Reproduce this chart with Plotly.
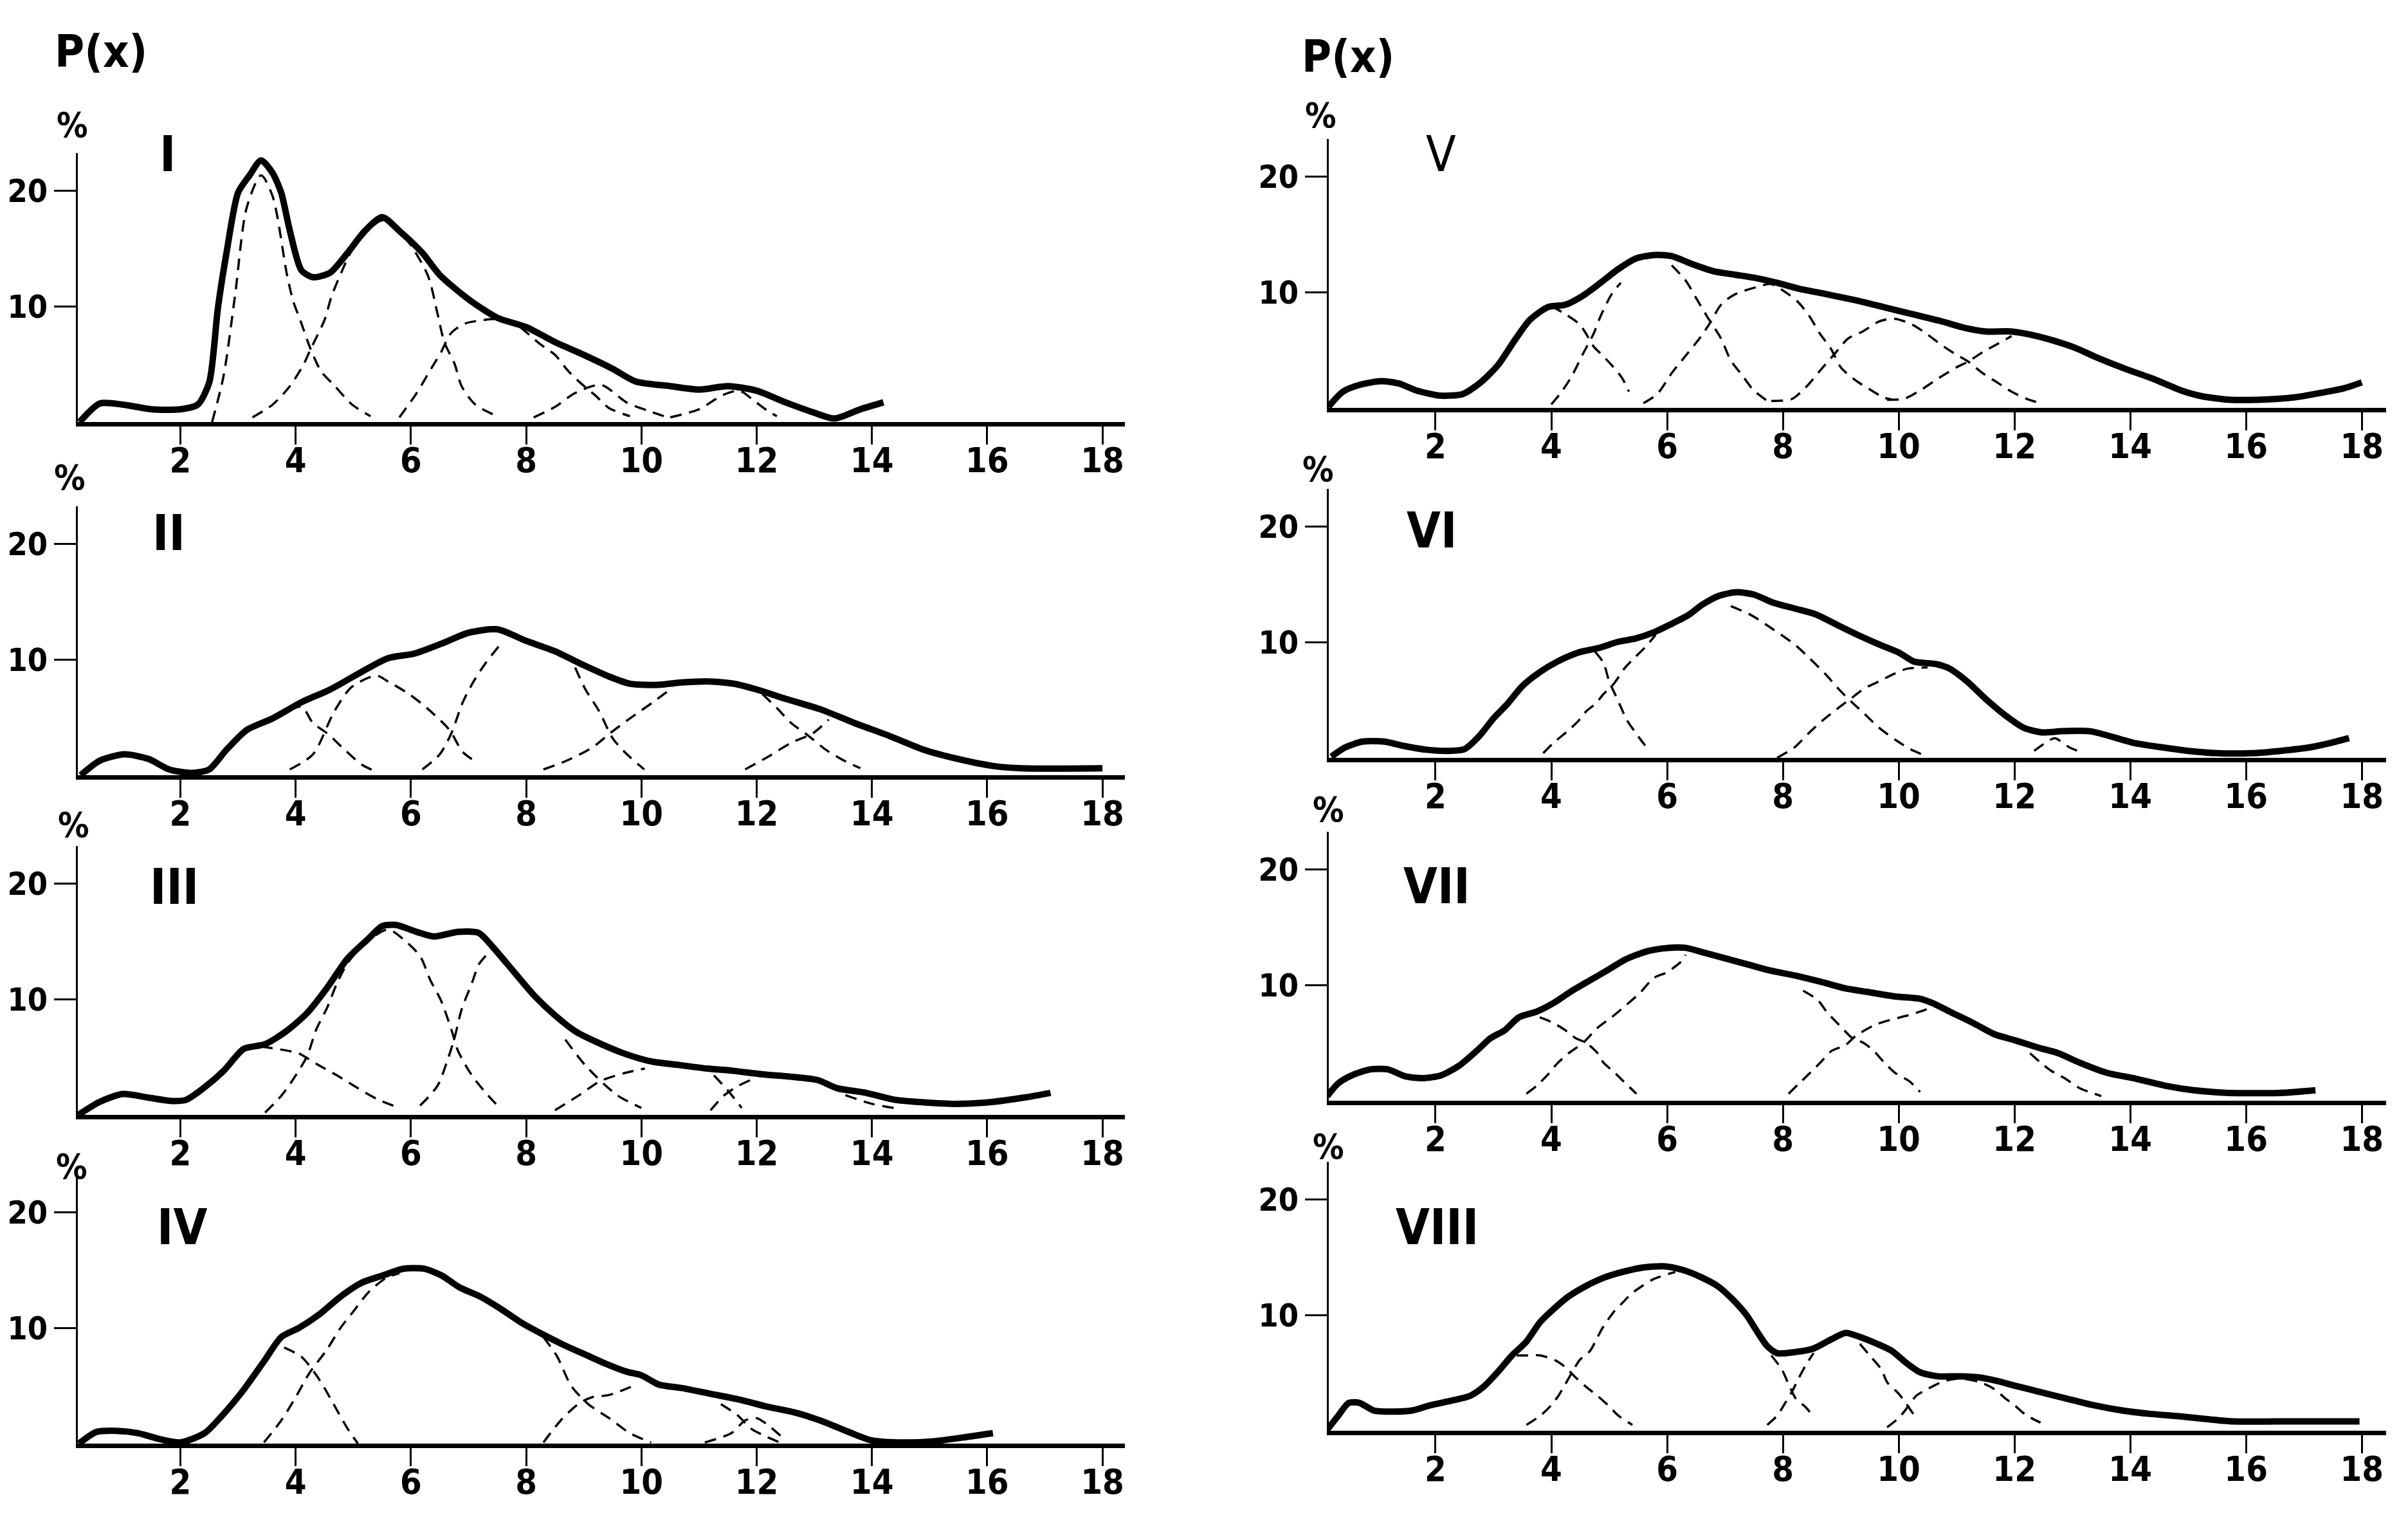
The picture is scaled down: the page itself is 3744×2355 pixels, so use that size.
import plotly.graph_objects as go

W, H = 3744, 2355

# ---------------- Panel I ----------------
p1_x = [0.25,0.6,1.0,1.5,2.0,2.3,2.5,2.65,2.8,3.0,3.2,3.4,3.6,3.75,3.9,4.1,4.3,4.6,4.9,5.2,5.5,5.8,6.2,6.5,7.0,7.5,8.0,8.5,9.0,9.5,9.9,10.5,11.0,11.5,12.0,12.5,13.0,13.35,13.8,14.2]
p1_y = [0,1.6,1.5,1.1,1.1,1.5,3.4,9.8,14.6,19.8,21.3,22.6,21.5,19.8,16.5,13.1,12.5,12.9,14.6,16.5,17.7,16.5,14.6,12.7,10.6,9.0,8.2,6.9,5.8,4.6,3.5,3.1,2.8,3.1,2.7,1.7,0.8,0.3,1.1,1.7]
p1_c1_x = [2.55,2.75,2.95,3.15,3.4,3.6,3.85,3.96,4.08,4.26,4.44,4.68,4.98,5.3]
p1_c1_y = [0,4,11,18.5,21.3,19.5,12.7,10.4,8.8,6.3,4.4,3.1,1.5,0.5]
p1_c2_x = [3.25,3.6,3.9,4.14,4.26,4.5,4.62,4.8,5.0,5.5,5.9,6.29,6.46,6.58,6.76,6.88,7.12,7.54]
p1_c2_y = [0.4,1.5,3.1,5.0,6.3,8.8,10.8,13.0,15.0,17.4,15.9,12.7,9.4,6.9,5.0,3.1,1.5,0.4]
p1_c3_x = [5.8,6.1,6.35,6.52,6.7,6.94,7.18,7.5,7.8,8.25,8.5,8.73,8.96,9.2,9.44,9.8]
p1_c3_y = [0.4,2.5,4.6,6.0,7.7,8.5,8.75,8.9,8.5,6.7,5.8,4.4,3.3,2.3,1.2,0.5]
p1_c4_x = [8.13,8.5,8.85,9.3,9.74,10.1,10.45]
p1_c4_y = [0.4,1.3,2.5,3.2,1.7,1.0,0.4]
p1_c5_x = [10.5,11.0,11.4,11.7,11.94,12.18,12.35]
p1_c5_y = [0.4,1.1,2.3,2.7,1.9,1.0,0.5]

# ---------------- Panel II ----------------
p2_x = [0.27,0.6,1.03,1.45,1.8,2.2,2.5,2.8,3.15,3.6,4.1,4.6,5.1,5.6,6.06,6.55,7.0,7.5,8.0,8.5,9.0,9.45,9.8,10.3,10.67,11.15,11.6,12.0,12.5,13.1,13.7,14.3,14.9,15.5,16.1,16.6,18.0]
p2_y = [0,1.25,1.8,1.4,0.5,0.2,0.5,2.2,3.9,4.9,6.3,7.4,8.8,10.1,10.5,11.4,12.3,12.6,11.6,10.7,9.5,8.5,7.9,7.8,8.0,8.1,7.9,7.4,6.6,5.7,4.5,3.4,2.2,1.4,0.8,0.6,0.6]
p2_c1_x = [3.6,4.1,4.3,4.55,4.85,5.15,5.4]
p2_c1_y = [4.8,5.9,4.5,3.6,2.2,0.9,0.3]
p2_c2_x = [3.9,4.3,4.67,4.97,5.4,5.6,5.97,6.3,6.67,6.9,7.15]
p2_c2_y = [0.5,1.8,5.5,7.6,8.6,8.1,7.0,5.7,3.9,2.0,1.1]
p2_c3_x = [6.2,6.5,6.7,6.9,7.1,7.3,7.6,None,8.85,9.03,9.27,9.5,9.75,10.05]
p2_c3_y = [0.5,1.8,3.6,6.3,8.2,9.7,11.6,None,9.3,7.4,5.5,3.2,1.8,0.5]
p2_c4_x = [8.3,8.7,9.15,9.45,9.8,10.2,10.55,None,12.1,12.35,12.6,12.9,13.2,13.5,13.8]
p2_c4_y = [0.5,1.25,2.4,3.6,4.9,6.3,7.6,None,7.0,5.8,4.5,3.4,2.2,1.3,0.6]
p2_c5_x = [11.8,12.2,12.6,12.97,13.25]
p2_c5_y = [0.5,1.6,2.8,3.6,4.8]

# ---------------- Panel III ----------------
p3_x = [0.23,0.59,1.0,1.43,1.85,2.1,2.4,2.75,3.1,3.47,3.83,4.2,4.55,4.9,5.26,5.5,5.74,6.1,6.4,6.82,7.18,7.42,7.78,8.14,8.5,8.86,9.22,9.7,10.18,10.66,11.14,11.6,12.1,12.58,13.06,13.4,13.9,14.4,14.86,15.45,16.05,16.65,17.1]
p3_y = [0,1.1,1.8,1.5,1.2,1.3,2.3,3.8,5.7,6.1,7.2,8.8,11,13.5,15.2,16.3,16.4,15.8,15.4,15.8,15.7,14.5,12.4,10.3,8.6,7.2,6.3,5.3,4.6,4.3,4.0,3.8,3.5,3.3,3.0,2.3,1.9,1.3,1.1,0.95,1.1,1.5,1.9]
p3_c1_x = [3.4,3.9,4.06,4.36,4.72,5.08,5.44,5.8]
p3_c1_y = [5.9,5.5,5.3,4.4,3.4,2.3,1.3,0.6]
p3_c2_x = [3.47,3.76,4.0,4.2,4.36,4.55,4.72,4.9,5.2,5.6,5.86,6.16,6.34,6.52,6.7,6.82,7.06,7.3,7.54]
p3_c2_y = [0.2,1.7,3.4,5.1,7.4,9.3,11.4,13.1,14.8,16.0,15.2,13.7,11.6,9.9,7.4,5.5,3.4,1.9,0.6]
p3_c3_x = [6.16,6.46,6.64,6.76,6.88,7.06,7.18,7.35,None,8.68,9.04,9.58,10.0]
p3_c3_y = [0.8,2.5,4.8,6.7,9.1,11.4,13.0,14.0,None,6.5,4.2,1.7,0.6]
p3_c4_x = [8.5,8.92,9.28,9.7,10.06,None,11.26,11.5,11.74]
p3_c4_y = [0.4,1.7,2.9,3.6,4.0,None,3.4,2.1,0.6]
p3_c5_x = [11.2,11.44,11.68,11.98,None,13.54,14.0,14.5]
p3_c5_y = [0.4,1.7,2.5,3.2,None,1.7,0.95,0.5]

# ---------------- Panel IV ----------------
p4_x = [0.24,0.54,0.9,1.27,1.63,2.0,2.42,2.72,3.09,3.45,3.75,4.06,4.42,4.78,5.15,5.5,5.87,6.23,6.54,6.84,7.2,7.57,7.93,8.3,8.66,9.02,9.38,9.75,10.0,10.3,10.7,11.2,11.7,12.17,12.65,13.1,13.6,13.98,14.47,15.07,15.68,16.1]
p4_y = [0,1.0,1.1,0.9,0.4,0.1,0.9,2.4,4.6,7.1,9.2,10.0,11.2,12.7,13.9,14.5,15.1,15.1,14.5,13.5,12.7,11.6,10.4,9.4,8.5,7.7,6.9,6.2,5.9,5.1,4.8,4.3,3.8,3.2,2.7,2.0,1.0,0.3,0.1,0.2,0.6,0.9]
p4_c1_x = [3.8,4.1,4.36,4.5,4.66,4.9,5.08]
p4_c1_y = [8.3,7.5,5.9,4.8,3.4,1.3,0]
p4_c2_x = [3.45,3.75,4.0,4.24,4.54,4.78,5.0,5.27,5.57,5.8,None,8.3,8.54,8.78,9.08,9.44,9.8,10.17]
p4_c2_y = [0.1,2.0,4.0,6.1,8.1,10.0,11.4,13.1,14.3,14.7,None,9.2,7.5,5.0,3.4,2.2,0.9,0.1]
p4_c3_x = [8.3,8.6,8.9,9.14,9.44,9.87,None,11.38,11.68,11.9,12.17,12.4]
p4_c3_y = [0.1,2.0,3.4,4.0,4.2,5.0,None,3.4,2.4,1.3,0.6,0.1]
p4_c4_x = [11.1,11.56,11.8,12.0,12.17,12.5]
p4_c4_y = [0.1,0.9,2.0,2.2,1.7,0.3]

# ---------------- Panel V ----------------
p5_x = [0.15,0.4,0.7,1.06,1.37,1.67,2.1,2.47,2.78,3.08,3.39,3.63,3.94,4.24,4.55,4.85,5.16,5.46,5.77,6.08,6.44,6.8,7.17,7.54,7.9,8.27,8.77,9.25,9.74,10.23,10.72,11.15,11.5,11.94,12.3,12.68,13.04,13.4,13.9,14.4,14.88,15.24,15.73,16.2,16.83,17.3,17.7,18.0]
p5_y = [0.1,1.4,2.0,2.3,2.1,1.5,1.05,1.2,2.2,3.7,6.0,7.6,8.7,8.9,9.7,10.8,12.0,12.9,13.2,13.1,12.4,11.8,11.5,11.2,10.8,10.3,9.8,9.3,8.7,8.1,7.5,6.9,6.6,6.6,6.3,5.8,5.2,4.4,3.4,2.5,1.5,1.0,0.7,0.7,0.9,1.3,1.7,2.2]
p5_c1_x = [4.0,4.24,4.49,4.6,4.73,4.85,5.04,5.22,5.34]
p5_c1_y = [8.8,8.1,7.2,6.4,5.3,4.7,3.7,2.6,1.4]
p5_c2_x = [4.0,4.18,4.36,4.55,4.73,4.85,5.04,5.2,None,6.08,6.32,6.5,6.69,6.93,7.1,7.3,7.48,7.73]
p5_c2_y = [0.3,1.4,2.8,4.7,6.4,7.9,9.8,10.8,None,12.3,11.0,9.5,7.9,6.0,4.1,2.8,1.6,0.6]
p5_c3_x = [5.59,5.83,6.08,6.32,6.56,6.75,6.93,7.17,7.6,7.79,8.1,8.27,8.46,8.64,8.83,9.0,9.25,9.5,9.74,9.9]
p5_c3_y = [0.4,1.2,3.0,4.5,6.0,7.4,8.9,9.8,10.5,10.7,9.8,9.1,7.9,6.4,5.1,3.5,2.4,1.6,0.9,0.7]
p5_c4_x = [7.8,8.15,8.4,8.64,8.9,9.13,9.38,9.68,9.93,10.23,10.48,10.72,10.96,11.2,11.45,11.7,11.95,12.2,12.45]
p5_c4_y = [0.6,0.75,1.8,3.2,4.7,6.0,6.6,7.5,7.7,7.2,6.4,5.5,4.7,4.0,3.0,2.2,1.4,0.8,0.4]
p5_c5_x = [9.8,10.1,10.4,10.7,11.0,11.2,11.45,11.7,11.95]
p5_c5_y = [0.7,0.8,1.6,2.6,3.5,4.0,4.8,5.5,6.2]

# ---------------- Panel VI ----------------
p6_x = [0.2,0.44,0.74,1.11,1.48,1.84,2.2,2.5,2.76,3.0,3.25,3.5,3.8,4.1,4.47,4.83,5.14,5.45,5.75,6.05,6.36,6.6,6.9,7.2,7.5,7.83,8.2,8.56,8.93,9.3,9.66,10.0,10.27,10.64,10.88,11.18,11.5,11.86,12.16,12.47,12.83,13.3,13.7,14.05,14.55,15.0,15.5,16.1,16.6,17.1,17.47,17.78]
p6_y = [0.1,0.9,1.4,1.4,1.0,0.7,0.6,0.75,1.9,3.4,4.7,6.2,7.4,8.3,9.1,9.5,10.0,10.3,10.8,11.5,12.3,13.2,14.0,14.3,14.1,13.4,12.9,12.4,11.5,10.6,9.8,9.1,8.3,8.1,7.7,6.6,5.1,3.6,2.6,2.2,2.3,2.3,1.8,1.3,0.9,0.6,0.4,0.4,0.6,0.9,1.3,1.7]
p6_c1_x = [4.75,4.9,5.0,5.1,5.2,5.3,5.45,5.6,5.7]
p6_c1_y = [9.2,8.2,6.6,5.5,4.4,3.3,2.2,1.2,0.6]
p6_c2_x = [3.86,4.04,4.28,4.47,4.6,4.77,4.9,5.08,5.26,5.45,5.63,5.8,None,7.1,7.46,7.83,8.2,8.44,8.74,8.99,9.17,9.41,9.66,9.96,10.2,10.45]
p6_c2_y = [0.4,1.3,2.3,3.2,4.0,4.7,5.5,6.4,7.7,8.7,9.6,10.6,None,13.1,12.3,11.1,9.8,8.7,7.2,5.8,4.9,3.8,2.6,1.5,0.75,0.2]
p6_c3_x = [7.9,8.2,8.44,8.68,8.93,9.17,9.41,9.66,9.9,10.15,10.5]
p6_c3_y = [0,0.9,2.1,3.2,4.2,5.1,6.0,6.6,7.2,7.7,7.8]
p6_c4_x = [12.34,12.6,12.7,12.95,13.2]
p6_c4_y = [0.6,1.5,1.7,0.9,0.4]

# ---------------- Panel VII ----------------
p7_x = [0.13,0.32,0.56,0.87,1.18,1.48,1.79,2.1,2.4,2.71,2.95,3.2,3.44,3.75,4.06,4.36,4.67,4.98,5.28,5.65,6.02,6.32,6.63,7.0,7.37,7.73,8.22,8.71,9.08,9.45,9.94,10.37,10.6,10.92,11.29,11.65,12.02,12.4,12.76,13.12,13.6,14.1,14.6,15.1,15.6,16.2,16.7,17.2]
p7_y = [0.4,1.5,2.2,2.7,2.7,2.1,1.95,2.2,3.0,4.3,5.4,6.1,7.2,7.7,8.5,9.5,10.4,11.3,12.2,12.9,13.2,13.2,12.8,12.3,11.8,11.3,10.8,10.2,9.7,9.4,9.0,8.8,8.4,7.6,6.7,5.75,5.2,4.6,4.1,3.3,2.4,1.9,1.3,0.9,0.7,0.65,0.7,0.9]
p7_c1_x = [3.8,4.0,4.24,4.42,4.6,4.8,4.9,5.1,5.2,5.47]
p7_c1_y = [7.2,6.8,6.1,5.4,5.0,4.1,3.3,2.4,1.9,0.6]
p7_c2_x = [3.57,3.75,3.93,4.1,4.3,4.55,4.8,5.04,5.28,5.53,5.77,6.0,6.26,6.32,None,8.35,8.6,8.77,9.02,9.2,9.39,9.57,9.75,9.94,10.18,10.37]
p7_c2_y = [0.6,1.3,2.2,3.2,4.1,5.0,6.3,7.2,8.2,9.3,10.6,11.1,12.1,12.6,None,9.5,8.7,7.6,6.3,5.4,5.0,4.3,3.3,2.4,1.7,0.75]
p7_c3_x = [8.1,8.28,8.47,8.65,8.84,9.08,9.26,9.57,9.8,10.18,10.43,10.6,None,12.27,12.45,12.63,12.88,13.12,13.5]
p7_c3_y = [0.6,1.5,2.4,3.3,4.3,4.8,5.6,6.5,6.9,7.4,7.8,8.1,None,4.1,3.3,2.6,1.9,1.1,0.4]

# ---------------- Panel VIII ----------------
p8_x = [0.13,0.32,0.5,0.69,0.93,1.3,1.6,1.91,2.28,2.59,2.83,3.08,3.32,3.57,3.81,4.06,4.3,4.6,4.9,5.22,5.59,5.96,6.26,6.57,6.87,7.12,7.37,7.55,7.73,7.9,8.22,8.53,8.84,9.08,9.33,9.63,9.88,10.12,10.37,10.67,11.04,11.4,11.7,12.0,12.4,12.88,13.37,13.86,14.35,14.84,15.33,15.8,16.55,17.3,17.96]
p8_y = [0.1,1.3,2.4,2.4,1.75,1.65,1.75,2.2,2.6,3.0,3.8,5.1,6.5,7.7,9.4,10.6,11.6,12.5,13.2,13.7,14.1,14.2,13.9,13.3,12.5,11.4,10.0,8.6,7.3,6.7,6.8,7.1,7.9,8.45,8.1,7.5,6.9,5.9,5.05,4.7,4.7,4.6,4.3,3.9,3.4,2.8,2.2,1.75,1.45,1.25,1.0,0.8,0.8,0.8,0.8]
p8_c1_x = [3.4,3.57,3.81,4.06,4.24,4.42,4.6,4.8,4.98,5.16,5.4]
p8_c1_y = [6.5,6.5,6.5,6.1,5.5,4.6,3.8,3.0,2.2,1.3,0.5]
p8_c2_x = [3.57,3.81,4.0,4.12,4.24,4.36,4.49,4.67,4.8,4.9,5.1,5.22,5.4,5.77,6.14,None,7.8,7.98,8.1,8.22,8.4,8.53]
p8_c2_y = [0.5,1.3,2.2,3.0,4.0,5.05,6.1,6.9,8.1,9.0,10.4,11.0,11.9,13.1,13.7,None,6.5,5.3,4.0,2.8,2.0,1.2]
p8_c3_x = [7.73,7.9,8.04,8.16,8.28,8.4,8.53,None,9.33,9.5,9.7,9.8,10.0,10.12,10.3]
p8_c3_y = [0.5,1.3,2.4,3.4,4.6,5.7,6.7,None,7.5,6.5,5.3,4.2,3.2,2.4,1.1]
p8_c4_x = [9.8,10.0,10.18,10.3,10.5,10.74,11.04,11.4,11.65,11.84,12.0,12.2,12.45]
p8_c4_y = [0.3,1.1,2.2,3.0,3.6,4.2,4.5,4.2,3.6,2.8,2.2,1.35,0.7]

# ---------------- labels ----------------
roman = ["I", "II", "III", "IV", "V", "VI", "VII", "VIII"]
x_ticks = [2, 4, 6, 8, 10, 12, 14, 16, 18]
y_ticks = [10, 20]

panels = [
    (p1_x, p1_y, [(p1_c1_x, p1_c1_y), (p1_c2_x, p1_c2_y), (p1_c3_x, p1_c3_y), (p1_c4_x, p1_c4_y), (p1_c5_x, p1_c5_y)]),
    (p2_x, p2_y, [(p2_c1_x, p2_c1_y), (p2_c2_x, p2_c2_y), (p2_c3_x, p2_c3_y), (p2_c4_x, p2_c4_y), (p2_c5_x, p2_c5_y)]),
    (p3_x, p3_y, [(p3_c1_x, p3_c1_y), (p3_c2_x, p3_c2_y), (p3_c3_x, p3_c3_y), (p3_c4_x, p3_c4_y), (p3_c5_x, p3_c5_y)]),
    (p4_x, p4_y, [(p4_c1_x, p4_c1_y), (p4_c2_x, p4_c2_y), (p4_c3_x, p4_c3_y), (p4_c4_x, p4_c4_y)]),
    (p5_x, p5_y, [(p5_c1_x, p5_c1_y), (p5_c2_x, p5_c2_y), (p5_c3_x, p5_c3_y), (p5_c4_x, p5_c4_y), (p5_c5_x, p5_c5_y)]),
    (p6_x, p6_y, [(p6_c1_x, p6_c1_y), (p6_c2_x, p6_c2_y), (p6_c3_x, p6_c3_y), (p6_c4_x, p6_c4_y)]),
    (p7_x, p7_y, [(p7_c1_x, p7_c1_y), (p7_c2_x, p7_c2_y), (p7_c3_x, p7_c3_y)]),
    (p8_x, p8_y, [(p8_c1_x, p8_c1_y), (p8_c2_x, p8_c2_y), (p8_c3_x, p8_c3_y), (p8_c4_x, p8_c4_y)]),
]

# layout geometry (pixels)
col_px = [(113, 1741, [0.22, 18.39]), (2058, 3702, [0.156, 18.42])]
bottoms_px = [648, 1197, 1725, 2236, 626, 1170, 1703, 2216]
Y_TOP = 23.2
PX_PER_UNIT = 18.0
roman_pos = [(253, 232), (255, 821), (263, 1370), (275, 1899), (2232, 232), (2218, 817), (2226, 1369), (2226, 1899)]
pct_pos = [(104, 187), (100, 735), (106, 1274), (103, 1805), (2046, 172), (2042, 722), (2057, 1250), (2057, 1774)]
px_pos = [(149, 72), (2088, 80)]

FONT = "DejaVu Sans Condensed, Liberation Sans Narrow, sans-serif"

fig = go.Figure()
layout = dict(
    width=W, height=H,
    margin=dict(l=0, r=0, t=0, b=0),
    paper_bgcolor="white", plot_bgcolor="white",
    showlegend=False,
)

for i, (sx, sy, comps) in enumerate(panels):
    n = i + 1
    col = 0 if i < 4 else 1
    x0px, x1px, xr = col_px[col]
    bpx = bottoms_px[i]
    tpx = bpx - Y_TOP * PX_PER_UNIT
    xa = "x" if n == 1 else f"x{n}"
    ya = "y" if n == 1 else f"y{n}"
    for cx, cy in comps:
        fig.add_trace(go.Scatter(
            x=cx, y=cy, mode="lines", xaxis=xa, yaxis=ya,
            line=dict(color="black", width=3.5, dash="18px,12px", shape="spline", smoothing=0.8),
            connectgaps=False, hoverinfo="skip"))
    fig.add_trace(go.Scatter(
        x=sx, y=sy, mode="lines", xaxis=xa, yaxis=ya,
        line=dict(color="black", width=10, shape="spline", smoothing=0.7),
        hoverinfo="skip"))
    layout["xaxis" if n == 1 else f"xaxis{n}"] = dict(
        domain=[x0px / W, x1px / W], range=xr, anchor=ya,
        showgrid=False, zeroline=False,
        showline=True, linewidth=7, linecolor="black",
        ticks="outside", ticklen=28, tickwidth=3, tickcolor="black",
        ticklabelstandoff=-22,
        tickvals=x_ticks, ticktext=[str(v) for v in x_ticks],
        tickfont=dict(family=FONT, size=54, color="black", weight="bold"),
        fixedrange=True,
    )
    layout["yaxis" if n == 1 else f"yaxis{n}"] = dict(
        domain=[1 - bpx / H, 1 - tpx / H], range=[0, Y_TOP], anchor=xa,
        showgrid=False, zeroline=False,
        showline=True, linewidth=3, linecolor="black",
        ticks="outside", ticklen=34, tickwidth=3, tickcolor="black",
        tickvals=y_ticks, ticktext=[str(v) for v in y_ticks],
        tickfont=dict(family=FONT, size=50, color="black", weight="bold"),
        fixedrange=True,
    )

annotations = []
for i, name in enumerate(roman):
    rx, ry = roman_pos[i]
    annotations.append(dict(
        x=rx / W, y=1 - ry / H, xref="paper", yref="paper", text=name,
        showarrow=False, xanchor="center", yanchor="middle",
        font=dict(family=FONT, size=76, color="black", weight="normal" if name == "V" else "bold")))
    qx, qy = pct_pos[i]
    annotations.append(dict(
        x=qx / W, y=1 - qy / H, xref="paper", yref="paper", text="%",
        showarrow=False, xanchor="center", yanchor="middle",
        font=dict(family=FONT, size=54, color="black", weight="bold")))
for (px_, py_) in px_pos:
    annotations.append(dict(
        x=px_ / W, y=1 - py_ / H, xref="paper", yref="paper", text="P(x)",
        showarrow=False, xanchor="center", yanchor="middle",
        font=dict(family=FONT, size=70, color="black", weight="bold")))
layout["annotations"] = annotations

fig.update_layout(**layout)
fig.write_html("out.html")
